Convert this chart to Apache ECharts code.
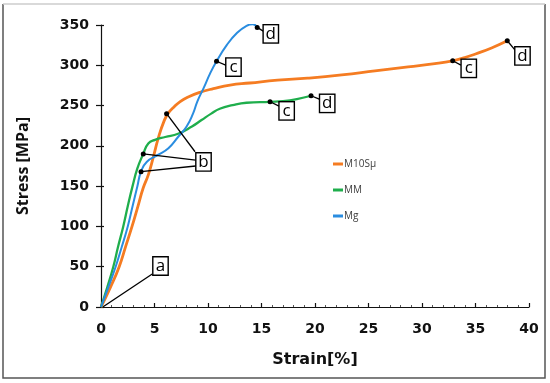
<!DOCTYPE html>
<html>
<head>
<meta charset="utf-8">
<script src="https://cdn.jsdelivr.net/npm/echarts@6/dist/echarts.min.js"></script>
<style>
html,body{margin:0;padding:0;background:#fff;}
#chart{width:550px;height:383px;}
</style>
</head>
<body>
<div id="chart"></div>
<script>
// ---- data (strain %, stress MPa) ----
const seriesNames = ['M10S\u03bc', 'MM', 'Mg'];
const m10sData = [[0,0],[0.9,25],[1.7,50],[2.3,75],[2.9,100],[3.45,125],[3.95,148],[4.42,164],[4.89,186],[5.36,210],[5.9,231],[6.3,241],[6.8,248],[7.4,255],[8.2,261],[9.25,266.5],[10.5,271],[12.06,275.5],[13.9,278],[16.5,281.5],[19.3,284],[22.5,288],[25.6,293],[28.7,298],[31.2,302],[32.87,305.6],[34,309.5],[35,314],[36.5,321.5],[37.97,330.4]];
const mmData = [[0,0],[0.6,25],[1.15,50],[1.6,75],[2.08,100],[2.5,125],[2.95,150],[3.4,172],[3.95,190],[4.42,203],[5.05,207.5],[6,211],[7.2,215],[8.5,224],[9.4,232],[10.3,240],[11.1,246],[12.3,250.5],[13.6,253.5],[15.8,254.7],[17,255.5],[18.3,258],[19.63,262.2]];
const mgData = [[0,0],[0.7,25],[1.37,50],[1.95,75],[2.5,100],[2.95,125],[3.4,150],[3.74,168],[4.27,180],[5.36,189],[6.3,197],[7.2,211],[8.0,224],[8.6,240],[9.0,255],[9.6,272],[10.2,290],[10.8,305],[11.75,325],[12.7,340],[13.6,349],[14.2,351],[14.6,347]];
const xTicks = [0,5,10,15,20,25,30,35,40];
const yTicks = [0,50,100,150,200,250,300,350];
// annotation dots on the curves
const markerDots = [[6.13,240],[3.95,190],[3.74,168],[10.8,305],[14.6,347],[15.8,254.7],[19.63,262.2],[32.87,305.6],[37.97,330.4]];
// annotation boxes: letter, x, y
const boxLetters = ['a','b','c','d','c','d','c','d'];
const boxX = [5.56,9.58,12.38,15.87,17.35,21.14,34.37,39.39];
const boxY = [50.9,180,297.8,339,243.4,252.7,296.2,311.6];
// leader lines: from [x,y] to [x,y]
const leaderLines = [
  [[0.2,0.4],[4.79,40.9]],
  [[6.13,240],[8.79,192.7]],
  [[3.95,190],[8.85,182.4]],
  [[3.74,168],[8.85,175]],
  [[10.8,305],[11.7,300]],
  [[14.6,347],[15.16,342.4]],
  [[15.8,254.7],[16.64,249.4]],
  [[19.63,262.2],[20.4,258]],
  [[32.87,305.6],[33.64,300.2]],
  [[37.97,330.4],[38.7,318.9]]
];

const colors = ['#f57c22', '#1fae4c', '#2a8de0'];
const chart = echarts.init(document.getElementById('chart'));
const tickFont = {fontFamily:'DejaVu Sans', fontWeight:'bold', fontSize:14, color:'#111'};

const option = {
  animation:false,
  backgroundColor:'#fff',
  grid:{left:101, right:21, top:25, bottom:76},
  legend:{
    orient:'vertical', left:328, top:154, itemGap:16,
    itemWidth:10, itemHeight:3, icon:'rect',
    textStyle:{fontFamily:'Open Sans', fontSize:10, color:'#404040', padding:[0,0,0,-4]},
    data:seriesNames
  },
  xAxis:{
    type:'value', min:0, max:40, interval:5,
    name:'Strain[%]', nameLocation:'middle', nameGap:45,
    nameTextStyle:{fontFamily:'DejaVu Sans', fontWeight:'bold', fontSize:16, color:'#111'},
    axisLine:{onZero:false, lineStyle:{color:'#111', width:1.2}},
    axisTick:{inside:true, length:4, lineStyle:{color:'#111', width:1.2}},
    minorTick:{show:true, splitNumber:5, length:2, lineStyle:{color:'#555', width:1}},
    axisLabel:Object.assign({margin:15, formatter:v=>xTicks.includes(v)?String(v):''}, tickFont),
    splitLine:{show:false}
  },
  yAxis:[{
    type:'value', min:0, max:350, interval:50,
    name:'Stress [MPa]', nameLocation:'middle', nameGap:70, nameRotate:90,
    nameTextStyle:{fontFamily:'Open Sans', fontWeight:'bold', fontSize:16, color:'#111'},
    axisLine:{show:true, onZero:false, lineStyle:{color:'#111', width:1.2}},
    axisTick:{show:true, inside:false, length:5, lineStyle:{color:'#111', width:1.2}},
    axisLabel:Object.assign({margin:12, formatter:v=>yTicks.includes(v)?String(v):''}, tickFont),
    splitLine:{show:false}
  },{
    type:'value', min:0, max:350, interval:50, position:'left',
    axisLine:{show:false}, axisLabel:{show:false}, splitLine:{show:false},
    axisTick:{show:true, inside:true, length:3, lineStyle:{color:'#111', width:1.2}}
  }],
  series:[
    {name:seriesNames[0], type:'line', data:m10sData, smooth:0.5, symbol:'none', z:2,
     lineStyle:{color:colors[0], width:2.8, join:'round'}, itemStyle:{color:colors[0]}},
    {name:seriesNames[1], type:'line', data:mmData, smooth:0.5, symbol:'none', z:3,
     lineStyle:{color:colors[1], width:2.3, join:'round'}, itemStyle:{color:colors[1]}},
    {name:seriesNames[2], type:'line', data:mgData, smooth:0.5, symbol:'none', z:4,
     lineStyle:{color:colors[2], width:2, join:'round'}, itemStyle:{color:colors[2]}},
    {name:'leaders', type:'lines', coordinateSystem:'cartesian2d', z:5,
     lineStyle:{color:'#000', width:1.3, opacity:1},
     data:leaderLines.map(c=>({coords:c}))},
    {name:'dots', type:'scatter', data:markerDots, symbolSize:5, z:6,
     itemStyle:{color:'#000', opacity:1}},
    {name:'boxes', type:'scatter', z:7, symbolSize:1, itemStyle:{color:'#fff', opacity:1},
     data:boxLetters.map((l,i)=>({value:[boxX[i],boxY[i]], name:l})),
     label:{show:true, position:'inside', formatter:p=>p.name,
       fontFamily:'Open Sans', fontSize:17, color:'#000', lineHeight:15,
       backgroundColor:'#fff', borderColor:'#000', borderWidth:1.4,
       padding:[1,2,1,2], width:10, height:15, align:'center', verticalAlign:'middle'}}
  ],
  graphic:[
    {type:'polyline', silent:true, z:100, shape:{points:[[3,4],[3,378],[545,378],[545,4]]},
     style:{stroke:'#555', lineWidth:1.5, fill:null}},
    {type:'line', silent:true, z:100, shape:{x1:3,y1:4,x2:545,y2:4},
     style:{stroke:'#ccc', lineWidth:1.5}}
  ]
};
chart.setOption(option);
</script>
</body>
</html>
